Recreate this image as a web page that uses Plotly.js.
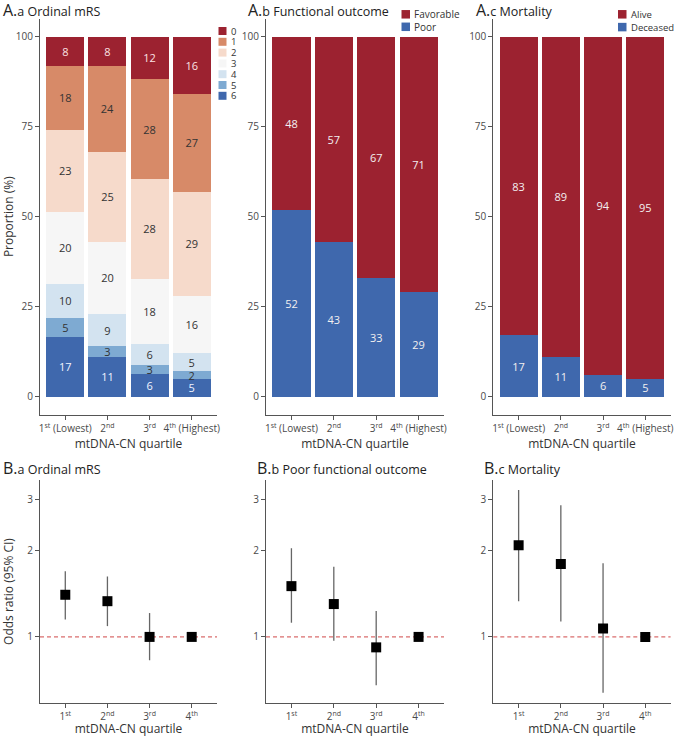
<!DOCTYPE html>
<html>
<head>
<meta charset="utf-8">
<script src="https://cdn.plot.ly/plotly-3.0.1.min.js"></script>
<style>html,body{margin:0;padding:0;background:#fff}#chart{width:675px;height:737px}</style>
</head>
<body>
<div id="chart"></div>
<script>
// ---- data ----
const quartiles = ['1st', '2nd', '3rd', '4th'];
const tickTop = ['1<sup>st</sup> (Lowest)', '2<sup>nd</sup>', '3<sup>rd</sup>', '4<sup>th</sup> (Highest)'];
const tickBottom = ['1<sup>st</sup>', '2<sup>nd</sup>', '3<sup>rd</sup>', '4<sup>th</sup>'];

const mrsLevels = ['0', '1', '2', '3', '4', '5', '6'];
const mrs0 = [8.2, 8, 11.8, 16];
const mrs1 = [17.6, 24, 27.8, 27];
const mrs2 = [22.8, 25, 27.6, 29];
const mrs3 = [20.0, 20, 18.2, 16];
const mrs4 = [9.6, 9, 5.8, 5];
const mrs5 = [5.2, 3, 2.6, 2];
const mrs6 = [16.6, 11, 6.2, 5];

const outcomeLevels = ['Favorable', 'Poor'];
const favorable = [48, 57, 67, 71];
const poor = [52, 43, 33, 29];

const mortalityLevels = ['Alive', 'Deceased'];
const alive = [83, 89, 94, 95];
const deceased = [17, 11, 6, 5];

const orMrs = [1.40, 1.33, 1.00, 1.00];
const orMrsLo = [1.15, 1.09, 0.83, 1.00];
const orMrsHi = [1.69, 1.62, 1.21, 1.00];

const orPoor = [1.50, 1.30, 0.92, 1.00];
const orPoorLo = [1.12, 0.97, 0.68, 1.00];
const orPoorHi = [2.03, 1.75, 1.23, 1.00];

const orMort = [2.08, 1.79, 1.07, 1.00];
const orMortLo = [1.33, 1.13, 0.64, 1.00];
const orMortHi = [3.23, 2.86, 1.80, 1.00];

const panelTitles = ['Ordinal mRS', 'Functional outcome', 'Mortality',
                     'Ordinal mRS', 'Poor functional outcome', 'Mortality'];

// ---- styles ----
const FONT = 'Open Sans, Noto Sans, sans-serif';
const mrsColors = ['#9c2230', '#d78a68', '#f6dacb', '#f6f6f6', '#d3e3f0', '#7eaad2', '#3f68ad'];
const mrsText = ['#fbe3e3', '#333', '#333', '#333', '#333', '#333', '#f0f4ff'];
const RED = '#9c2230', BLUE = '#3f68ad';

const traces = [];
const mrsSeries = [mrs0, mrs1, mrs2, mrs3, mrs4, mrs5, mrs6];
// stack from 6 (bottom) to 0 (top)
for (let i = mrsLevels.length - 1; i >= 0; i--) {
  traces.push({
    type: 'bar', x: quartiles, y: mrsSeries[i], name: mrsLevels[i],
    xaxis: 'x', yaxis: 'y',
    marker: {color: mrsColors[i]},
    text: mrsSeries[i].map(v => String(Math.round(v))),
    textposition: 'inside', insidetextanchor: 'middle', constraintext: 'none', textangle: 0,
    textfont: {family: FONT, size: 11, color: mrsText[i]},
    hoverinfo: 'skip', showlegend: false
  });
}
function binaryBars(bottom, top, xa, ya, names) {
  [[bottom, BLUE, names[1]], [top, RED, names[0]]].forEach(([vals, col, nm]) => {
    traces.push({
      type: 'bar', x: quartiles, y: vals, name: nm, xaxis: xa, yaxis: ya,
      marker: {color: col},
      text: vals.map(v => String(v)),
      textposition: 'inside', insidetextanchor: 'middle', constraintext: 'none', textangle: 0,
      textfont: {family: FONT, size: 11, color: '#f3f0f0'},
      hoverinfo: 'skip', showlegend: false
    });
  });
}
binaryBars(poor, favorable, 'x2', 'y2', outcomeLevels);
binaryBars(deceased, alive, 'x3', 'y3', mortalityLevels);

function orTrace(est, lo, hi, xa, ya) {
  traces.push({
    type: 'scatter', mode: 'markers', x: quartiles, y: est, xaxis: xa, yaxis: ya,
    marker: {symbol: 'square', size: 10, color: '#000'},
    error_y: {type: 'data', symmetric: false,
              array: hi.map((h, i) => h - est[i]),
              arrayminus: lo.map((l, i) => est[i] - l),
              width: 0, thickness: 1.3, color: '#666'},
    hoverinfo: 'skip', showlegend: false
  });
}
orTrace(orMrs, orMrsLo, orMrsHi, 'x4', 'y4');
orTrace(orPoor, orPoorLo, orPoorHi, 'x5', 'y5');
orTrace(orMort, orMortLo, orMortHi, 'x6', 'y6');

// ---- layout ----
const W = 675, H = 737;
const colDom = [[40 / W, 217 / W], [266 / W, 444 / W], [493.3 / W, 670.6 / W]];
const topDom = [1 - 414.7 / H, 1 - 18.7 / H];
const botDom = [1 - 703 / H, 1 - 480 / H];

const tickFont = {family: FONT, size: 10, color: '#4a4a4a'};
const titleFont = {family: FONT, size: 12, color: '#333'};
function xAxis(ticks, anchor, dom, standoff) {
  return {
    domain: dom, anchor: anchor, type: 'category', range: [-0.6, 3.6],
    tickvals: quartiles, ticktext: ticks,
    showline: true, linecolor: '#555', linewidth: 1, ticks: 'outside', ticklen: 4, tickcolor: '#555',
    showgrid: false, zeroline: false, tickfont: tickFont,
    title: {text: 'mtDNA-CN quartile', font: titleFont, standoff: standoff}, fixedrange: true
  };
}
function yTop(anchor, title) {
  return {
    domain: topDom, anchor: anchor, range: [-5, 105], tickvals: [0, 25, 50, 75, 100],
    showline: true, linecolor: '#555', linewidth: 1, ticks: 'outside', ticklen: 4, tickcolor: '#555',
    showgrid: false, zeroline: false, tickfont: tickFont,
    title: {text: title || '', font: titleFont, standoff: 6}
  };
}
function yBot(anchor, title) {
  return {
    domain: botDom, anchor: anchor, type: 'log', range: [Math.log10(0.59), Math.log10(3.5)],
    tickvals: [1, 2, 3], ticktext: ['1', '2', '3'],
    showline: true, linecolor: '#555', linewidth: 1, ticks: 'outside', ticklen: 4, tickcolor: '#555',
    showgrid: false, zeroline: false, tickfont: tickFont,
    title: {text: title || '', font: titleFont, standoff: 14}
  };
}

const annotations = [];
const titleX = [2, 247, 475, 2, 256, 483];
const titleY = [10.5, 10.5, 10.5, 468, 468, 468];
panelTitles.forEach((t, i) => {
  const letter = i < 3 ? 'A.' : 'B.';
  const sub = 'abc'[i % 3];
  annotations.push({
    xref: 'paper', yref: 'paper', x: titleX[i] / W, y: 1 - titleY[i] / H,
    xanchor: 'left', yanchor: 'middle', showarrow: false, borderpad: 0,
    text: '<span style="font-size:16px">' + letter + '</span>' + sub + ' ' + t,
    font: {family: FONT, size: 12.5, color: '#222'}
  });
});

// compact legends drawn next to each panel
const shapes = [];
function legend(labels, colors, x0, y0, dy, size, fs) {
  labels.forEach((lab, i) => {
    const cy = y0 + i * dy;
    shapes.push({type: 'rect', xref: 'paper', yref: 'paper',
      x0: x0 / W, x1: (x0 + size) / W, y0: 1 - (cy - size / 2) / H, y1: 1 - (cy + size / 2) / H,
      fillcolor: colors[i], line: {width: 0}});
    annotations.push({xref: 'paper', yref: 'paper', x: (x0 + size + 3) / W, y: 1 - cy / H,
      xanchor: 'left', yanchor: 'middle', showarrow: false, borderpad: 0, text: lab,
      font: {family: FONT, size: fs, color: '#333'}});
  });
}
legend(mrsLevels, mrsColors, 218.5, 31, 10.8, 8, 9.5);
legend(outcomeLevels, [RED, BLUE], 401.5, 14.3, 12.5, 8.5, 10);
legend(mortalityLevels, [RED, BLUE], 618, 14.3, 12.8, 8.5, 9.5);

// reference lines at OR = 1
['x4', 'x5', 'x6'].forEach((xa, i) => {
  shapes.push({type: 'line', xref: xa + ' domain', yref: 'y' + (i + 4), x0: 0, x1: 1, y0: 1, y1: 1,
    line: {color: '#d04848', width: 1, dash: '4px,3px'}, layer: 'below'});
});

const layout = {
  width: W, height: H, margin: {l: 0, r: 0, t: 0, b: 0},
  paper_bgcolor: '#fff', plot_bgcolor: '#fff',
  font: {family: FONT, color: '#333'},
  barmode: 'stack', bargap: 0.1, showlegend: false,
  xaxis: xAxis(tickTop, 'y', colDom[0], 1),
  xaxis2: xAxis(tickTop, 'y2', colDom[1], 1),
  xaxis3: xAxis(tickTop, 'y3', colDom[2], 1),
  xaxis4: xAxis(tickBottom, 'y4', colDom[0], 2),
  xaxis5: xAxis(tickBottom, 'y5', colDom[1], 2),
  xaxis6: xAxis(tickBottom, 'y6', colDom[2], 2),
  yaxis: yTop('x', 'Proportion (%)'),
  yaxis2: yTop('x2'),
  yaxis3: yTop('x3'),
  yaxis4: yBot('x4', 'Odds ratio (95% CI)'),
  yaxis5: yBot('x5'),
  yaxis6: yBot('x6'),
  annotations: annotations, shapes: shapes
};

Plotly.newPlot('chart', traces, layout, {staticPlot: true, displayModeBar: false});
</script>
</body>
</html>
